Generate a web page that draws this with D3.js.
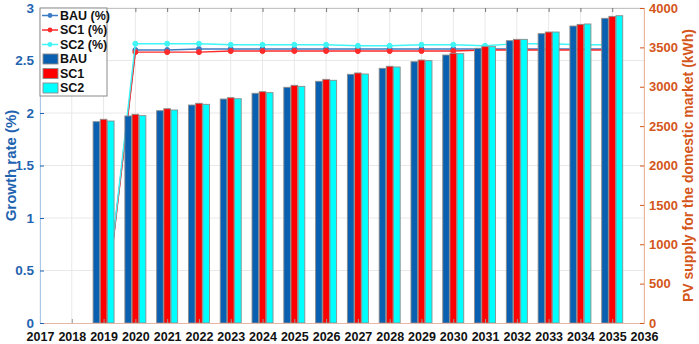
<!DOCTYPE html>
<html><head><meta charset="utf-8">
<script src="https://cdn.jsdelivr.net/npm/d3@7"></script>
<style>body{margin:0;background:#fff}svg{display:block;font-family:"Liberation Sans",Arial,sans-serif}</style>
</head><body><svg id="c" width="699" height="344"></svg>
<script>
const years = d3.range(2017, 2037);
const barYears = [2019,2020,2021,2022,2023,2024,2025,2026,2027,2028,2029,2030,2031,2032,2033,2034,2035];
const barBAU = [2556,2629,2696,2768,2844,2917,2993,3069,3158,3234,3318,3403,3488,3585,3674,3771,3869];
const barSC1 = [2587,2650,2721,2790,2861,2937,3018,3094,3175,3260,3340,3425,3509,3602,3695,3792,3894];
const barSC2 = [2565,2633,2705,2777,2848,2925,3005,3082,3162,3251,3331,3420,3509,3602,3695,3797,3902];
const lineYears = barYears;
const pctBAU = [0,2.60,2.60,2.61,2.61,2.61,2.61,2.61,2.61,2.61,2.61,2.61,2.61,2.61,2.61,2.61,2.61];
const pctSC1 = [0,2.58,2.58,2.58,2.59,2.59,2.59,2.59,2.59,2.59,2.59,2.59,2.60,2.60,2.60,2.60,2.60];
const pctSC2 = [0,2.66,2.66,2.66,2.65,2.65,2.65,2.65,2.64,2.64,2.65,2.65,2.64,2.66,2.66,2.65,2.65];
const leftTicks = [0,0.5,1,1.5,2,2.5,3];
const rightTicks = [0,500,1000,1500,2000,2500,3000,3500,4000];

const svg = d3.select("#c");
const L=40, R=644, T=8, B=323;
const x = d3.scaleLinear().domain([2017,2036]).range([L,R]);
const yL = d3.scaleLinear().domain([0,3]).range([B,T]);
const yR = d3.scaleLinear().domain([0,4000]).range([B,T]);
const blue="#1f64b0", orange="#d4561a";

// grid
svg.append("g").selectAll("line").data(years).join("line")
  .attr("x1",d=>x(d)).attr("x2",d=>x(d)).attr("y1",T).attr("y2",B)
  .attr("stroke","#e8e8e8").attr("stroke-width",1);
svg.append("g").selectAll("line").data(leftTicks.slice(1)).join("line")
  .attr("x1",L).attr("x2",R).attr("y1",d=>yL(d)).attr("y2",d=>yL(d))
  .attr("stroke","#e8e8e8").attr("stroke-width",1);

// lines
const series = [
  {v:pctBAU, c:"#3b7cc4"},
  {v:pctSC1, c:"#ff2a2a"},
  {v:pctSC2, c:"#3ff5f5"}
];
const lineGen = d3.line().x((d,i)=>x(lineYears[i])).y(d=>yL(d));
series.forEach(s=>{
  svg.append("path").datum(s.v).attr("d",lineGen).attr("fill","none")
    .attr("stroke",s.c).attr("stroke-width",1.4);
  const pts = s.v.map((d,i)=>({yr:lineYears[i],v:d})).filter(p=>p.v>0);
  svg.append("g").selectAll("circle").data(pts).join("circle")
    .attr("cx",p=>x(p.yr)).attr("cy",p=>yL(p.v)).attr("r",2.5)
    .attr("fill",s.c).attr("stroke",s.c);
});

// bars
const inner = d3.scaleBand().domain(["BAU","SC1","SC2"]).range([-10.5,10.5]).paddingInner(0.08);
const barSets = [{k:"BAU",v:barBAU,c:"#0a60b0"},{k:"SC1",v:barSC1,c:"#ff0000"},{k:"SC2",v:barSC2,c:"#00ffff"}];
barSets.forEach(s=>{
  svg.append("g").selectAll("rect").data(s.v).join("rect")
    .attr("x",(d,i)=>x(barYears[i])+inner(s.k)).attr("width",inner.bandwidth())
    .attr("y",d=>yR(d)).attr("height",d=>B-yR(d))
    .attr("fill",s.c).attr("stroke","#8c8c8c").attr("stroke-width",0.9);
});

// axes
const ax = svg.append("g").attr("transform",`translate(0,${B})`)
  .call(d3.axisBottom(x).tickValues(years).tickFormat(d3.format("d")).tickSize(-4).tickPadding(9));
ax.select(".domain").attr("stroke","#e8b6a6");
ax.selectAll(".tick line").attr("stroke","#999");
ax.selectAll("text").attr("font-size","12.5px").attr("font-weight","bold").attr("fill","#111");

const topAx = svg.append("g").attr("transform",`translate(0,${T})`)
  .call(d3.axisTop(x).tickValues(years).tickFormat("").tickSize(-4));
topAx.select(".domain").attr("stroke","#c4c4c4");
topAx.selectAll(".tick line").attr("stroke","#777");

const la = svg.append("g").attr("transform",`translate(${L},0)`)
  .call(d3.axisLeft(yL).tickValues(leftTicks).tickFormat(d=>d).tickSize(-4).tickPadding(6));
la.select(".domain").attr("stroke","#a9c7e6");
la.selectAll(".tick line").attr("stroke",blue);
la.selectAll("text").attr("font-size","13.5px").attr("font-weight","bold").attr("fill",blue);

const ra = svg.append("g").attr("transform",`translate(${R},0)`)
  .call(d3.axisRight(yR).tickValues(rightTicks).tickFormat(d=>d).tickSize(-4).tickPadding(5));
ra.select(".domain").attr("stroke","#eeb496");
ra.selectAll(".tick line").attr("stroke",orange);
ra.selectAll("text").attr("font-size","13px").attr("font-weight","bold").attr("fill",orange);

svg.append("text").attr("transform",`translate(16,${(T+B)/2}) rotate(-90)`)
  .attr("text-anchor","middle").attr("font-size","15px").attr("font-weight","bold")
  .attr("fill",blue).text("Growth rate (%)");
svg.append("text").attr("transform",`translate(693,${(T+B)/2}) rotate(-90)`)
  .attr("text-anchor","middle").attr("font-size","14px").attr("font-weight","bold")
  .attr("fill",orange).text("PV supply for the domestic market (kWh)");

// legend
const lg = svg.append("g");
lg.append("rect").attr("x",L).attr("y",T).attr("width",67).attr("height",88)
  .attr("fill","#fff").attr("stroke","#8a8a8a").attr("stroke-width",1);
const items = [
  {t:"BAU (%)",c:"#3b7cc4",line:true},{t:"SC1 (%)",c:"#ff2a2a",line:true},{t:"SC2 (%)",c:"#3ff5f5",line:true},
  {t:"BAU",c:"#0a60b0"},{t:"SC1",c:"#ff0000"},{t:"SC2",c:"#00ffff"}];
items.forEach((it,i)=>{
  const cy = 15.5 + i*14.5;
  if(it.line){
    lg.append("line").attr("x1",42).attr("x2",58).attr("y1",cy).attr("y2",cy).attr("stroke",it.c).attr("stroke-width",1.5);
    lg.append("circle").attr("cx",50).attr("cy",cy).attr("r",2.4).attr("fill",it.c);
  } else {
    lg.append("rect").attr("x",43).attr("y",cy-5).attr("width",15).attr("height",10)
      .attr("fill",it.c).attr("stroke","#8c8c8c").attr("stroke-width",0.9);
  }
  lg.append("text").attr("x",60).attr("y",cy+4.3).attr("font-size","12.5px").attr("font-weight","bold")
    .attr("fill","#111").text(it.t);
});
</script></body></html>
